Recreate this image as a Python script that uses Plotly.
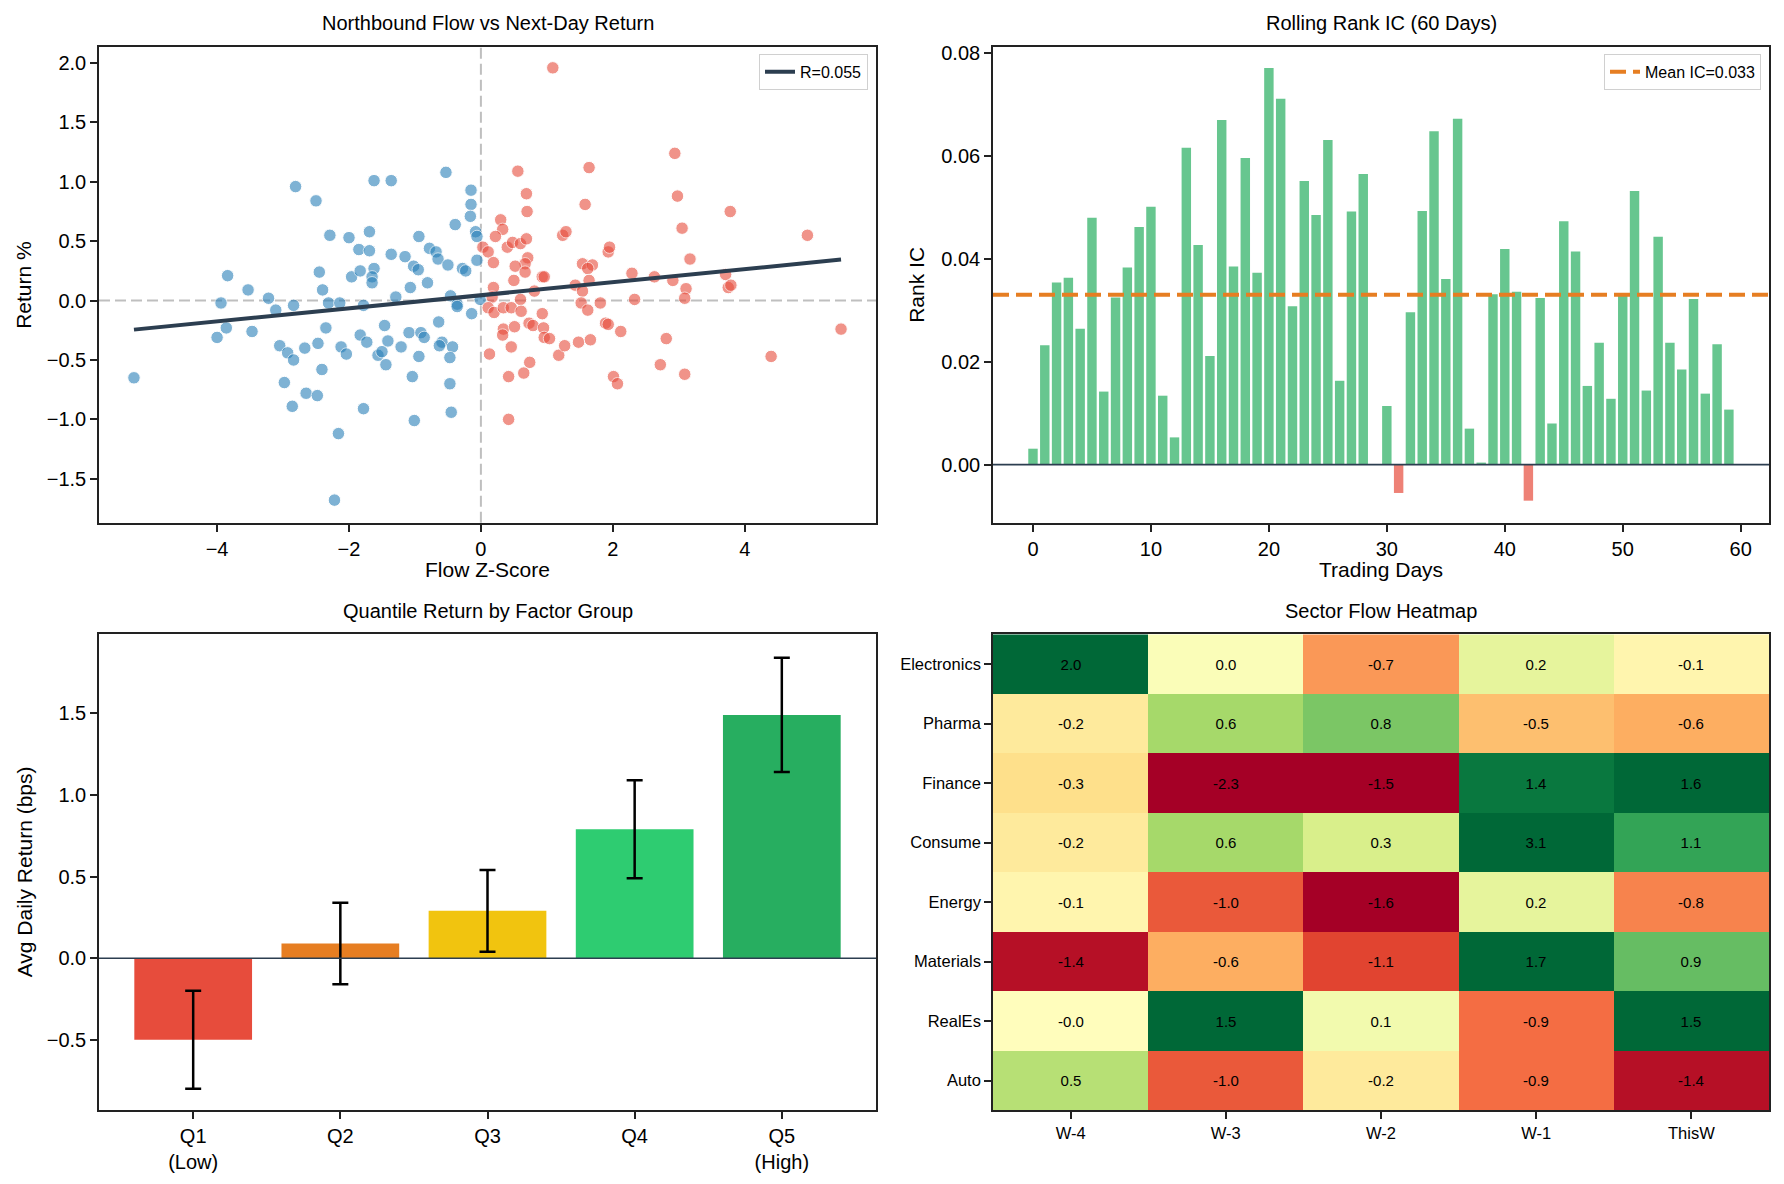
import plotly.graph_objects as go

# ---------------- data ----------------
flow_z = [
    -5.26, -3.84, -3.94, -3.53, -3.22, -3.86, -4.00, -3.47, -3.11, -2.84,
    -2.81, -2.50, -2.29, -2.45, -2.40, -2.31, -2.35, -3.05, -2.93, -2.84,
    -2.67, -2.47, -2.41, -2.98, -2.65, -2.48, -2.86, -2.16, -2.22, -2.14,
    -2.12, -2.04, -2.00, -1.96, -1.85, -1.83, -1.78, -1.83, -1.73, -1.78,
    -1.69, -1.69, -1.62, -1.36, -1.62, -1.65, -1.65, -1.56, -1.50, -1.46,
    -1.41, -1.44, -1.36, -1.29, -1.21, -1.15, -1.09, -1.07, -1.04, -1.01,
    -0.94, -1.02, -0.95, -0.91, -0.86, -0.94, -0.81, -0.78, -0.68, -0.65,
    -0.59, -0.63, -0.64, -0.53, -0.50, -0.46, -0.43, -0.47, -0.47, -0.45,
    -0.39, -0.36, -0.28, -0.23, -0.15, -0.15, -0.16, -0.14, -0.08, -0.06,
    -0.06, -0.01, -0.36,
    1.09, 0.56, 0.69, 0.70, 0.30, 0.33, 0.22, 0.03, 0.11, 0.19,
    0.40, 0.48, 0.60, 0.69, 0.71, 0.67, 0.52, 0.67, 0.50, 0.19,
    0.17, 0.11, 0.20, 0.34, 0.46, 0.60, 0.61, 0.81, 0.93, 0.96,
    0.93, 0.73, 0.79, 0.34, 0.51, 0.33, 0.95, 0.96, 1.04, 0.46,
    0.13, 0.74, 0.65, 0.42, 0.42, 1.18, 1.27, 1.48, 1.66, 1.24,
    1.29, 1.58, 1.64, 1.54, 1.69, 1.62, 1.64, 1.43, 1.54, 1.52,
    1.62, 1.81, 1.93, 1.95, 1.89, 1.93, 2.12, 2.01, 2.07, 2.29,
    2.33, 2.63, 2.91, 2.81, 2.72, 3.09, 3.11, 3.09, 3.17, 3.05,
    2.98, 2.94, 3.78, 3.71, 3.75, 3.79, 4.40, 4.95, 5.46,
]
next_ret = [
    -0.65, 0.21, -0.02, 0.09, 0.02, -0.23, -0.31, -0.26, -0.08, -0.04,
    0.96, 0.84, 0.55, 0.24, 0.09, -0.02, -0.23, -0.38, -0.44, -0.50,
    -0.40, -0.36, -0.58, -0.69, -0.78, -0.80, -0.89, -1.12, -1.68, -0.02,
    -0.39, -0.45, 0.53, 0.20, 0.43, 0.25, -0.04, -0.29, -0.35, -0.91,
    0.58, 0.42, 1.01, 1.01, 0.27, 0.20, 0.15, -0.46, -0.43, -0.21,
    -0.34, -0.54, 0.39, 0.03, -0.39, 0.37, -0.27, 0.11, -0.64, -1.01,
    0.54, 0.29, 0.26, -0.27, -0.31, -0.47, 0.15, 0.44, 0.41, 0.35,
    -0.35, -0.38, -0.18, 1.08, 0.30, 0.04, -0.39, -0.48, -0.70, -0.94,
    0.64, -0.03, 0.27, 0.25, 0.93, 0.81, 0.71, -0.11, 0.58, 0.54,
    0.34, 0.01, -0.05,
    1.96, 1.09, 0.90, 0.75, 0.68, 0.60, 0.54, 0.45, 0.41, 0.32,
    0.45, 0.49, 0.48, 0.52, 0.36, 0.31, 0.29, 0.24, 0.17, 0.11,
    0.03, -0.06, -0.10, -0.06, -0.06, 0.01, -0.09, 0.08, 0.20, 0.20,
    -0.11, -0.19, -0.21, -0.24, -0.22, -0.29, -0.23, -0.31, -0.32, -0.39,
    -0.45, -0.52, -0.61, -0.64, -1.00, -0.46, -0.38, -0.35, -0.33, 0.55,
    0.58, 0.81, 1.12, 0.31, 0.30, 0.27, 0.17, 0.13, 0.08, -0.02,
    -0.08, -0.02, 0.41, 0.45, -0.19, -0.20, -0.26, -0.64, -0.70, 0.23,
    0.01, 0.20, 0.17, -0.32, -0.54, -0.62, 0.10, 0.02, 0.35, 0.61,
    0.88, 1.24, 0.75, 0.22, 0.11, 0.13, -0.47, 0.55, -0.24,
]
fit_slope = 0.055
fit_intercept = 0.045
fit_label = "R=0.055"

rank_ic = [
    0.0031, 0.0232, 0.0354, 0.0363, 0.0264, 0.0480, 0.0142, 0.0325, 0.0383, 0.0462,
    0.0501, 0.0134, 0.0053, 0.0616, 0.0427, 0.0211, 0.0670, 0.0385, 0.0596, 0.0373,
    0.0771, 0.0711, 0.0308, 0.0551, 0.0485, 0.0631, 0.0163, 0.0492, 0.0565, 0.0001,
    0.0114, -0.0055, 0.0296, 0.0493, 0.0648, 0.0361, 0.0672, 0.0070, 0.0004, 0.0331,
    0.0419, 0.0336, -0.0070, 0.0324, 0.0080, 0.0473, 0.0414, 0.0153, 0.0237, 0.0128,
    0.0329, 0.0532, 0.0144, 0.0443, 0.0237, 0.0185, 0.0322, 0.0138, 0.0234, 0.0107,
]
mean_ic = 0.033

quantiles = ["Q1<br>(Low)", "Q2", "Q3", "Q4", "Q5<br>(High)"]
quant_ret = [-0.50, 0.09, 0.29, 0.79, 1.49]
quant_err = [0.30, 0.25, 0.25, 0.30, 0.35]
quant_colors = ["#e74c3c", "#e67e22", "#f1c40f", "#2ecc71", "#27ae60"]

sectors = ["Electronics", "Pharma", "Finance", "Consume", "Energy", "Materials", "RealEs", "Auto"]
weeks = ["W-4", "W-3", "W-2", "W-1", "ThisW"]
sector_flow = [
    [2.0, 0.04, -0.7, 0.2, -0.1],
    [-0.2, 0.6, 0.8, -0.5, -0.6],
    [-0.3, -2.3, -1.5, 1.4, 1.6],
    [-0.2, 0.6, 0.3, 3.1, 1.1],
    [-0.1, -1.0, -1.6, 0.2, -0.8],
    [-1.4, -0.6, -1.1, 1.7, 0.9],
    [-0.02, 1.5, 0.1, -0.9, 1.5],
    [0.5, -1.0, -0.2, -0.9, -1.4],
]

# ---------------- figure ----------------
W, H = 1784, 1184
FONT = "Liberation Sans, Arial, Helvetica, sans-serif"


def px(x):
    return x / W


def py(y):
    return 1 - y / H


fig = go.Figure()

# Scatter
colors = ["#e74c3c" if v > 0 else "#2980b9" for v in flow_z]
fig.add_trace(go.Scatter(
    x=flow_z, y=next_ret, mode="markers", showlegend=False,
    marker=dict(size=12.5, color=colors, opacity=0.6, line=dict(color="white", width=1)),
    xaxis="x", yaxis="y"))
xmin, xmax = min(flow_z), max(flow_z)
fig.add_trace(go.Scatter(
    x=[xmin, xmax], y=[fit_slope * xmin + fit_intercept, fit_slope * xmax + fit_intercept],
    mode="lines", line=dict(color="#2c3e50", width=4), name=fit_label,
    xaxis="x", yaxis="y", legend="legend"))

# Rank IC bars
days = list(range(len(rank_ic)))
ic_colors = ["rgba(39,174,96,0.7)" if v >= 0 else "rgba(231,76,60,0.7)" for v in rank_ic]
fig.add_trace(go.Bar(x=days, y=rank_ic, marker=dict(color=ic_colors, line=dict(width=0)),
                     width=0.8, showlegend=False, xaxis="x2", yaxis="y2"))
ic_xrange = [-3.39, 62.4]
fig.add_trace(go.Scatter(
    x=ic_xrange, y=[mean_ic, mean_ic], mode="lines",
    line=dict(color="#e67e22", width=4, dash="16px,7px"),
    name=f"Mean IC={mean_ic:.3f}", xaxis="x2", yaxis="y2", legend="legend2"))

# Quantile bars
qx = list(range(len(quantiles)))
fig.add_trace(go.Bar(
    x=qx, y=quant_ret, width=0.8, marker=dict(color=quant_colors, line=dict(width=0)),
    error_y=dict(type="data", array=quant_err, color="black", thickness=2.5, width=8),
    showlegend=False, xaxis="x3", yaxis="y3"))

# Heatmap
rdylgn = ['rgb(165,0,38)', 'rgb(215,48,39)', 'rgb(244,109,67)', 'rgb(253,174,97)',
          'rgb(254,224,139)', 'rgb(255,255,191)', 'rgb(217,239,139)', 'rgb(166,217,106)',
          'rgb(102,189,99)', 'rgb(26,152,80)', 'rgb(0,104,55)']
cscale = [[i / (len(rdylgn) - 1), c] for i, c in enumerate(rdylgn)]
txt = [[f"{v:.1f}" for v in row] for row in sector_flow]
fig.add_trace(go.Heatmap(
    z=sector_flow, x=list(range(len(weeks))), y=list(range(len(sectors))),
    colorscale=cscale, zmin=-1.5, zmax=1.5, showscale=False,
    text=txt, texttemplate="%{text}", textfont=dict(size=15, color="black", family=FONT),
    xaxis="x4", yaxis="y4"))

# ---- axes ----
axcommon = dict(showline=True, linecolor="#222222", linewidth=1.6, mirror=True,
                ticks="outside", ticklen=7, tickwidth=1.6, tickcolor="#222222",
                showgrid=False, zeroline=False,
                tickfont=dict(family=FONT, size=20, color="black"))

XD1 = [px(99), px(876)]
XD2 = [px(993), px(1769)]
YD1 = [py(520), py(42)]
YD2 = [py(1110), py(632)]

hm_font = dict(family=FONT, size=16.5, color="black")

fig.update_layout(
    width=W, height=H, margin=dict(l=0, r=0, t=0, b=0),
    paper_bgcolor="white", plot_bgcolor="white",
    font=dict(family=FONT, color="black"),
    bargap=0.2,
    xaxis=dict(domain=XD1, anchor="y", range=[-5.79, 5.99], tickvals=[-4, -2, 0, 2, 4], **axcommon),
    yaxis=dict(domain=YD1, anchor="x", range=[-1.871, 2.137],
               tickvals=[-1.5, -1.0, -0.5, 0.0, 0.5, 1.0, 1.5, 2.0], tickformat=".1f", **axcommon),
    xaxis2=dict(domain=XD2, anchor="y2", range=ic_xrange, tickvals=[0, 10, 20, 30, 40, 50, 60], **axcommon),
    yaxis2=dict(domain=YD1, anchor="x2", range=[-0.0113, 0.0812],
                tickvals=[0.0, 0.02, 0.04, 0.06, 0.08], tickformat=".2f", **axcommon),
    xaxis3=dict(domain=XD1, anchor="y3", range=[-0.64, 4.64], tickvals=qx, ticktext=quantiles, **axcommon),
    yaxis3=dict(domain=YD2, anchor="x3", range=[-0.932, 1.984],
                tickvals=[-0.5, 0.0, 0.5, 1.0, 1.5], tickformat=".1f", **axcommon),
    xaxis4=dict(domain=XD2, anchor="y4", range=[-0.5, 4.5], tickvals=list(range(len(weeks))),
                ticktext=weeks, **{**axcommon, "tickfont": hm_font}),
    yaxis4=dict(domain=YD2, anchor="x4", range=[7.5, -0.5], tickvals=list(range(len(sectors))),
                ticktext=sectors, **{**axcommon, "tickfont": hm_font}),
    legend=dict(x=px(868), y=py(49), xanchor="right", yanchor="top",
                bgcolor="white", bordercolor="#d0d0d0", borderwidth=1,
                font=dict(family=FONT, size=16, color="black")),
    legend2=dict(x=px(1761), y=py(49), xanchor="right", yanchor="top",
                 bgcolor="white", bordercolor="#d0d0d0", borderwidth=1,
                 font=dict(family=FONT, size=16, color="black")),
)

# reference lines
fig.add_shape(type="line", xref="x domain", yref="y", x0=0, x1=1, y0=0, y1=0, layer="below",
              line=dict(color="rgba(128,128,128,0.5)", width=2, dash="11px,5px"))
fig.add_shape(type="line", xref="x", yref="y domain", x0=0, x1=0, y0=0, y1=1, layer="below",
              line=dict(color="rgba(128,128,128,0.5)", width=2, dash="11px,5px"))
fig.add_shape(type="line", xref="x2 domain", yref="y2", x0=0, x1=1, y0=0, y1=0,
              line=dict(color="#2c3e50", width=1.6))
fig.add_shape(type="line", xref="x3 domain", yref="y3", x0=0, x1=1, y0=0, y1=0,
              line=dict(color="#2c3e50", width=1.6))

# titles and axis labels
def label(text, x, y, size=20, angle=0):
    fig.add_annotation(text=text, x=px(x), y=py(y), xref="paper", yref="paper",
                       xanchor="center", yanchor="middle", showarrow=False, textangle=angle,
                       font=dict(family=FONT, size=size, color="black"))

label("Northbound Flow vs Next-Day Return", (99 + 876) / 2, 18, size=20)
label("Rolling Rank IC (60 Days)", (993 + 1769) / 2, 18, size=20)
label("Quantile Return by Factor Group", (99 + 876) / 2, 609, size=20)
label("Sector Flow Heatmap", (993 + 1769) / 2, 609, size=20)
label("Flow Z-Score", (99 + 876) / 2, 567, size=21)
label("Trading Days", (993 + 1769) / 2, 567, size=21)
label("Return %", 24, (42 + 520) / 2, size=21, angle=-90)
label("Rank IC", 917, (42 + 520) / 2, size=21, angle=-90)
label("Avg Daily Return (bps)", 24, (632 + 1110) / 2, size=21, angle=-90)

fig.write_html("out.html")
